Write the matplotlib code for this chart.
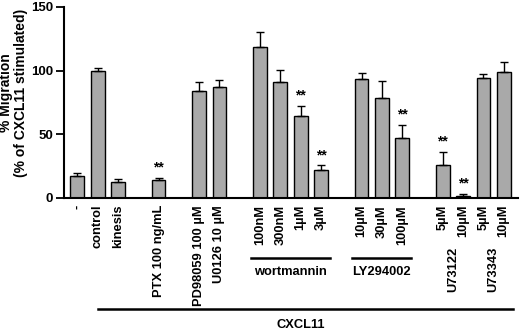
import matplotlib
matplotlib.use("Agg")
import matplotlib.pyplot as plt

plt.rcParams['font.family'] = ['Liberation Sans', 'DejaVu Sans']
plt.rcParams['font.weight'] = 'bold'

labels = ['-', 'control', 'kinesis', 'PTX 100 ng/mL', 'PD98059 100 µM', 'U0126 10 µM',
          '100nM', '300nM', '1µM', '3µM', '10µM', '30µM', '100µM',
          '5µM', '10µM', '5µM', '10µM']
slots = [0, 1, 2, 4, 6, 7, 9, 10, 11, 12, 14, 15, 16, 18, 19, 20, 21]
values = [17.5, 100, 12.3, 14, 84.3, 87, 118.9, 90.9, 64.7, 22, 93.5, 78.6, 47.4, 25.7, 1.8, 94, 99.2]
errors = [2.1, 1.8, 2.7, 2.0, 6.7, 5.4, 11.1, 9.4, 7.6, 3.7, 4.5, 13.1, 9.9, 10.4, 1.6, 3.4, 7.8]
signif = [False, False, False, True, False, False, False, False, True, True, False, False, True, True, True, False, False]
groups = [('wortmannin', 9, 12), ('LY294002', 14, 16)]
rot_groups = [('U73122', 18, 19), ('U73343', 20, 21)]

fig = plt.figure(figsize=(5.2, 3.3), dpi=100)
ax = fig.add_axes([0.123, 0.4, 0.873, 0.579])

ax.bar(slots, values, width=0.68, color='#a9a9a9', edgecolor='black', linewidth=1.0, zorder=2)
ax.errorbar(slots, values, yerr=[[0]*len(errors), errors], fmt='none', ecolor='black',
            elinewidth=1.0, capsize=3, capthick=1.0, zorder=3)
for s, v, e, sg in zip(slots, values, errors, signif):
    if sg:
        ax.text(s, v + e + 2.5, '**', ha='center', va='bottom', fontsize=10, fontweight='bold')

ax.set_xlim(-0.66, 21.7)
ax.set_ylim(0, 150)
ax.set_yticks([0, 50, 100, 150])
ax.tick_params(axis='y', labelsize=9.5, width=1.3, length=6, direction='out', pad=2)
for t in ax.get_yticklabels():
    t.set_fontweight('bold')
ax.spines['top'].set_visible(False)
ax.spines['right'].set_visible(False)
ax.spines['left'].set_linewidth(1.5)
ax.spines['bottom'].set_linewidth(1.5)
ax.set_xticks(slots)
ax.set_xticklabels(labels, rotation=90, fontsize=9.3, fontweight='bold')
ax.tick_params(axis='x', length=0, pad=5)
ax.set_ylabel('% Migration\n(% of CXCL11 stimulated)', fontsize=10, fontweight='bold',
              linespacing=1.1)
ax.yaxis.label.set_va('center')
ax.yaxis.set_label_coords(-0.111, 0.55)

trans = ax.get_xaxis_transform()
def ypix(p):
    # figure pixel row (from top) -> axes y fraction
    return (198 - p) / (198 - 7)

for name, a, b in groups:
    ax.plot([a - 0.45, b + 0.45], [ypix(258)] * 2, transform=trans, color='black', lw=1.8, clip_on=False)
    ax.text((a + b) / 2, ypix(272), name, transform=trans, ha='center', va='center',
            fontsize=9.3, fontweight='bold')
for name, a, b in rot_groups:
    ax.text((a + b) / 2, ypix(247), name, transform=trans, ha='center', va='top',
            rotation=90, fontsize=9.3, fontweight='bold')

ax.plot([1.0, 21.45], [ypix(309)] * 2, transform=trans, color='black', lw=1.8, clip_on=False)
ax.text(11.0, ypix(325), 'CXCL11', transform=trans, ha='center', va='center',
        fontsize=9.3, fontweight='bold')

fig.savefig('out.png', dpi=100)
